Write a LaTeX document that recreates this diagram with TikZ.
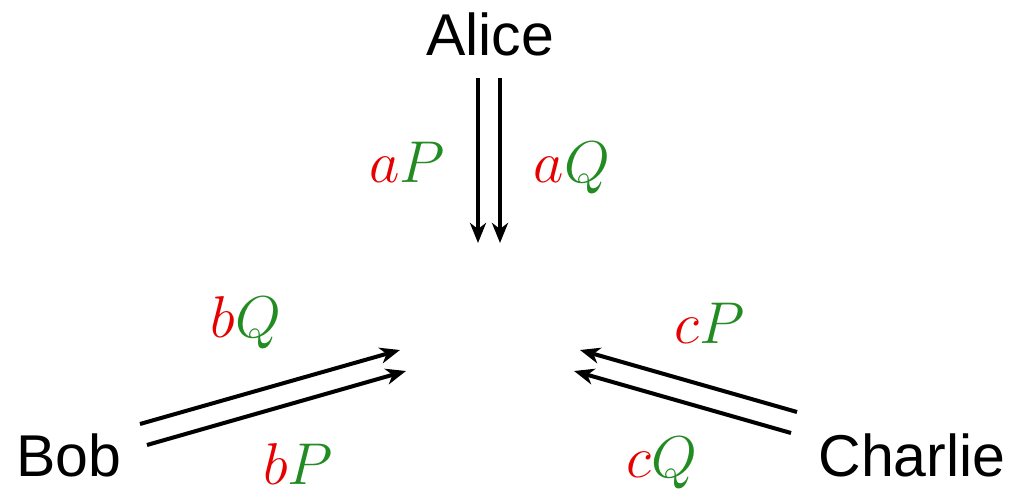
\RequirePackage{fix-cm}
\documentclass[tikz,border=0pt]{standalone}
\usepackage{fontspec}
\setsansfont{Liberation Sans}
\usetikzlibrary{arrows.meta}
\definecolor{lblred}{RGB}{230,0,0}
\definecolor{lblgreen}{RGB}{34,139,34}
\tikzset{
  party/.style={inner sep=0pt, anchor=base, font=\sffamily\fontsize{59}{70}\selectfont},
  lbl/.style={inner sep=0pt, anchor=base, font=\fontsize{59}{70}\selectfont},
  flow/.style={line width=4pt, -{Stealth[length=20pt,width=16pt,inset=6pt]}}
}
\newcommand{\rl}[1]{\textcolor{lblred}{#1}}
\newcommand{\gl}[1]{\textcolor{lblgreen}{#1}}
\begin{document}
\begin{tikzpicture}[x=1pt,y=-1pt]
\useasboundingbox (0,0) rectangle (1012,490);
\node[party] (alice) at (490,55) {Alice};
\node[party] (bob) at (69,476) {Bob};
\node[party] (charlie) at (912,476) {Charlie};
% arrow end points
\coordinate (a1s) at (478,78);  \coordinate (a1e) at (478,243);
\coordinate (a2s) at (500,78);  \coordinate (a2e) at (500,243);
\coordinate (b1s) at (140,424); \coordinate (b1e) at (400,350);
\coordinate (b2s) at (147,445); \coordinate (b2e) at (406,371);
\coordinate (c1s) at (797,412); \coordinate (c1e) at (580,350);
\coordinate (c2s) at (791,433); \coordinate (c2e) at (574,371);
\draw[flow] (a1s) -- (a1e);
\draw[flow] (a2s) -- (a2e);
\draw[flow] (b1s) -- (b1e);
\draw[flow] (b2s) -- (b2e);
\draw[flow] (c1s) -- (c1e);
\draw[flow] (c2s) -- (c2e);
% labels
\node[lbl] (laP) at (407,182) {$\rl{a}\gl{P}$};
\node[lbl] (laQ) at (572,182) {$\rl{a}\gl{Q}$};
\node[lbl] (lbQ) at (246,337) {$\rl{b}\gl{Q}$};
\node[lbl] (lbP) at (298,484) {$\rl{b}\gl{P}$};
\node[lbl] (lcP) at (710,343) {$\rl{c}\gl{P}$};
\node[lbl] (lcQ) at (662,477) {$\rl{c}\gl{Q}$};
\end{tikzpicture}
\end{document}
